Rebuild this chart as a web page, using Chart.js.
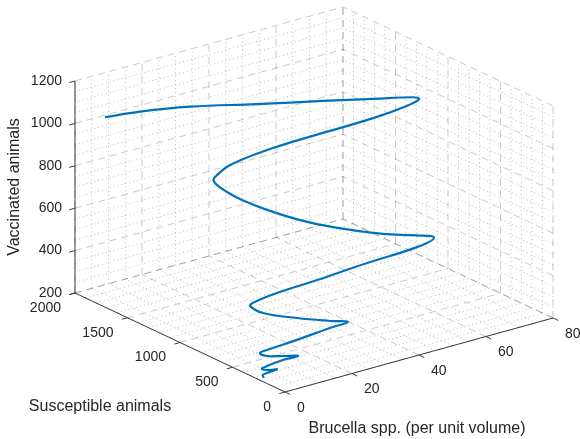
<!DOCTYPE html>
<html>
<head>
<meta charset="utf-8">
<title>Brucellosis trajectory</title>
<script src="https://cdn.jsdelivr.net/npm/chart.js@4.4.1/dist/chart.umd.min.js"></script>
<style>
    html, body { margin: 0; padding: 0; background: #fff; }
    #wrap { width: 580px; height: 439px; }
</style>
</head>
<body>
<div id="wrap"><canvas id="myChart" width="580" height="439"></canvas></div>
<script>
// Trajectory of the model: bacteria, susceptible herd, vaccinated herd
const brucella = [1.4, 10.0, 21.8, 37.0, 52.1, 63.6, 73.3, 74.5, 70.0, 58.9,
    42.2, 25.6, 10.9, 5.1, 4.0, 4.4, 6.8, 11.0, 17.2, 26.1,
    35.2, 49.2, 58.4, 63.3, 57.7, 41.9, 26.0, 13.1, 5.0, 3.7,
    6.8, 16.0, 25.0, 29.9, 24.2, 13.9, 4.4, 1.9, 3.8, 8.3,
    12.7, 8.0, 3.0, 1.3, 3.6, 5.5, 2.3, 1.0, 1.2];
const susceptible = [1760, 1700, 1600, 1450, 1300, 1190, 1120, 1100, 1075, 1040,
    985, 930, 870, 830, 810, 790, 770, 750, 720, 690,
    665, 635, 615, 600, 585, 555, 525, 495, 465, 450,
    425, 395, 368, 355, 345, 330, 312, 300, 292, 285,
    280, 275, 267, 262, 256, 252, 246, 243, 240];
const vaccinated = [1079, 1082, 1077, 1058, 1042, 1027, 1009, 1000, 993, 992,
    1008, 1022, 1020, 998, 993, 973, 934, 880, 816, 736,
    669, 583, 540, 512, 495, 496, 492, 494, 490, 484,
    444, 387, 340, 317, 316, 308, 306, 305, 285, 267,
    249, 252, 247, 241, 228, 225, 222, 219, 205];

const xTicks = [0, 20, 40, 60, 80];
const yTicks = [0, 500, 1000, 1500, 2000];
const zTicks = [200, 400, 600, 800, 1000, 1200];
const xMinorStep = 5;
const yMinorStep = 100;
const zMinorStep = 50;

const X_RANGE = [0, 80];
const Y_RANGE = [0, 2000];
const Z_RANGE = [200, 1200];

// oblique view of the box: where (0, 0, zmin) lands and how each axis runs on screen
const ORIGIN = { x: 285, y: 392 };
const AXIS_X = { dx: 268 / 80, dy: -74 / 80 };
const AXIS_Y = { dx: -210 / 2000, dy: -99 / 2000 };
const AXIS_Z = { dx: 0, dy: -212 / 1000 };

const FONT = '"Liberation Sans", Arial, Helvetica, sans-serif';
const TEXT_COLOR = '#262626';

function project(b, s, v) {
    return {
        x: ORIGIN.x + b * AXIS_X.dx + s * AXIS_Y.dx + (v - Z_RANGE[0]) * AXIS_Z.dx,
        y: ORIGIN.y + b * AXIS_X.dy + s * AXIS_Y.dy + (v - Z_RANGE[0]) * AXIS_Z.dy
    };
}

// turns a list of 3D segments into one dataset's points, broken by NaN gaps
function segments(list) {
    const out = [];
    list.forEach(([a, b]) => {
        out.push(project(...a), project(...b), { x: NaN, y: NaN });
    });
    return out;
}

function minorValues(range, step, majors) {
    const vals = [];
    for (let v = range[0]; v <= range[1] + 1e-9; v += step) {
        if (!majors.includes(v)) vals.push(v);
    }
    return vals;
}

// grid lines on the two back walls and the floor
function gridLines(xs, ys, zs) {
    const [x0, x1] = X_RANGE, [y0, y1] = Y_RANGE, [z0, z1] = Z_RANGE;
    const list = [];
    xs.forEach(b => {
        list.push([[b, y1, z0], [b, y1, z1]]);
        list.push([[b, y0, z0], [b, y1, z0]]);
    });
    ys.forEach(s => {
        list.push([[x1, s, z0], [x1, s, z1]]);
        list.push([[x0, s, z0], [x1, s, z0]]);
    });
    zs.forEach(v => {
        list.push([[x0, y1, v], [x1, y1, v]]);
        list.push([[x1, y0, v], [x1, y1, v]]);
    });
    return segments(list);
}

function axisLines() {
    const [x0, x1] = X_RANGE, [y0, y1] = Y_RANGE, [z0, z1] = Z_RANGE;
    const list = [
        [[x0, y1, z0], [x0, y1, z1]],
        [[x0, y0, z0], [x0, y1, z0]],
        [[x0, y0, z0], [x1, y0, z0]]
    ];
    xTicks.forEach(b => list.push([[b, y0, z0], [b, y0 - 50, z0]]));
    yTicks.forEach(s => list.push([[x0, s, z0], [x0 - 1.7, s, z0]]));
    zTicks.forEach(v => list.push([[x0, y1, v], [x0 - 1.7, y1, v]]));
    return segments(list);
}

const axisText = {
    id: 'axisText',
    afterDraw(chart) {
        const { ctx, scales: { x, y } } = chart;
        const at = (b, s, v) => {
            const p = project(b, s, v);
            return { x: x.getPixelForValue(p.x), y: y.getPixelForValue(p.y) };
        };
        ctx.save();
        ctx.fillStyle = TEXT_COLOR;
        ctx.font = '14px ' + FONT;

        ctx.textAlign = 'right';
        ctx.textBaseline = 'middle';
        zTicks.forEach(v => {
            const p = at(X_RANGE[0], Y_RANGE[1], v);
            ctx.fillText(String(v), p.x - 13, p.y);
        });
        yTicks.forEach(s => {
            const p = at(X_RANGE[0], s, Z_RANGE[0]);
            ctx.fillText(String(s), p.x - 14, p.y + 15);
        });
        ctx.textAlign = 'left';
        xTicks.forEach(b => {
            const p = at(b, Y_RANGE[0], Z_RANGE[0]);
            ctx.fillText(String(b), p.x + 12, p.y + 16);
        });

        ctx.font = '16px ' + FONT;
        ctx.textAlign = 'center';
        const bx = at(40, Y_RANGE[0], Z_RANGE[0]);
        ctx.fillText('Brucella spp. (per unit volume)', bx.x - 2, bx.y + 74);
        const sy = at(X_RANGE[0], 1000, Z_RANGE[0]);
        ctx.fillText('Susceptible animals', sy.x - 80, sy.y + 64);
        const vz = at(X_RANGE[0], Y_RANGE[1], 700);
        ctx.translate(vz.x - 60, vz.y);
        ctx.rotate(-Math.PI / 2);
        ctx.fillText('Vaccinated animals', 0, 0);
        ctx.restore();
    }
};

function setupChart() {
    const ctx = document.getElementById('myChart').getContext('2d');
    const trajectory = brucella.map((b, i) => project(b, susceptible[i], vaccinated[i]));

    return new Chart(ctx, {
        type: 'scatter',
        data: {
            datasets: [{
                label: 'Trajectory',
                data: trajectory,
                showLine: true,
                borderColor: '#0072BD',
                borderWidth: 2.2,
                tension: 0.4,
                pointRadius: 0
            }, {
                label: 'Axes',
                data: axisLines(),
                showLine: true,
                borderColor: '#3c3c3c',
                borderWidth: 1,
                pointRadius: 0
            }, {
                label: 'Major grid',
                data: gridLines(xTicks, yTicks, zTicks),
                showLine: true,
                borderColor: 'rgba(38, 38, 38, 0.25)',
                borderWidth: 1,
                borderDash: [7, 5],
                pointRadius: 0
            }, {
                label: 'Minor grid',
                data: gridLines(
                    minorValues(X_RANGE, xMinorStep, xTicks),
                    minorValues(Y_RANGE, yMinorStep, yTicks),
                    minorValues(Z_RANGE, zMinorStep, zTicks)
                ),
                showLine: true,
                borderColor: 'rgba(38, 38, 38, 0.3)',
                borderWidth: 1,
                borderDash: [1, 3],
                pointRadius: 0
            }]
        },
        options: {
            responsive: false,
            animation: false,
            events: [],
            layout: { padding: 0 },
            plugins: {
                legend: { display: false },
                tooltip: { enabled: false }
            },
            scales: {
                x: { type: 'linear', display: false, min: 0, max: 580 },
                y: { type: 'linear', display: false, min: 0, max: 439, reverse: true }
            }
        },
        plugins: [axisText]
    });
}

document.addEventListener('DOMContentLoaded', setupChart);
</script>
</body>
</html>
